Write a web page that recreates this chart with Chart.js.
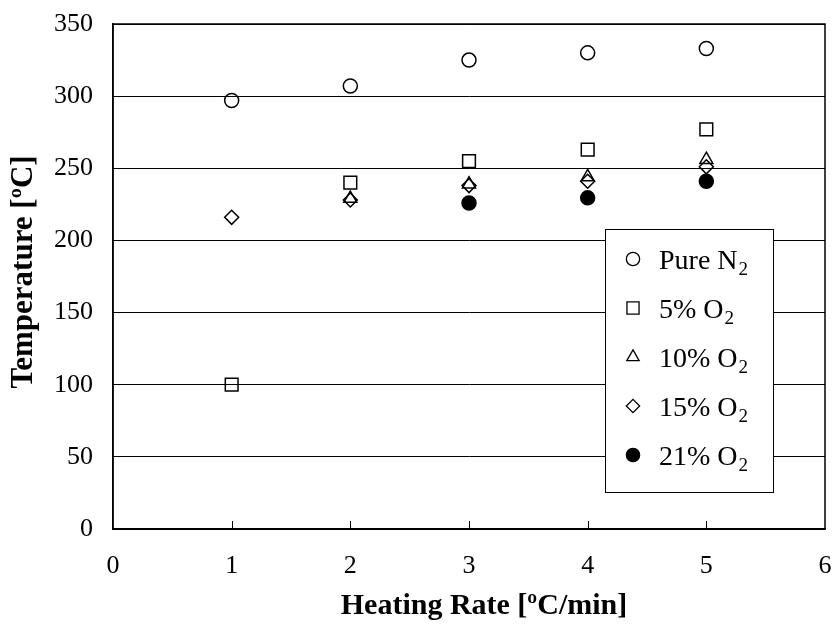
<!DOCTYPE html>
<html>
<head>
<meta charset="utf-8">
<script src="https://cdn.jsdelivr.net/npm/chart.js@4.4.0/dist/chart.umd.min.js"></script>
<style>
  html, body { margin: 0; padding: 0; background: #fff; }
  #wrap { width: 837px; height: 628px; }
</style>
</head>
<body>
<div id="wrap"><canvas id="tempChart"></canvas></div>
<script>
// heating rates and onset temperatures
const ratesAll = [1, 2, 3, 4, 5];
const pureN2 = [297, 307, 325, 330, 333];
const o2_5 = [100, 240, 255, 263, 277];
const rates10 = [2, 3, 4, 5];
const o2_10 = [229, 239, 244, 256];
const o2_15 = [216, 228, 238, 241, 251];
const rates21 = [3, 4, 5];
const o2_21 = [226, 229.5, 241];

const seriesNames = ['Pure N', '5% O', '10% O', '15% O', '21% O'];
const seriesSub = ['2', '2', '2', '2', '2'];
const xTicks = [0, 1, 2, 3, 4, 5, 6];
const yTicks = [0, 50, 100, 150, 200, 250, 300, 350];

const serif = '"Liberation Serif", "Times New Roman", serif';

function pts(xs, ys) {
  return xs.map((x, i) => ({ x: x, y: ys[i] }));
}

const styles = [
  { pointStyle: 'circle', radius: 7, fill: 'rgba(0,0,0,0)' },
  { pointStyle: 'rect', radius: 9, fill: 'rgba(0,0,0,0)' },
  { pointStyle: 'triangle', radius: 7.5, fill: 'rgba(0,0,0,0)' },
  { pointStyle: 'rectRot', radius: 7, fill: 'rgba(0,0,0,0)' },
  { pointStyle: 'circle', radius: 7, fill: '#000' }
];

const allData = [
  pts(ratesAll, pureN2),
  pts(ratesAll, o2_5),
  pts(rates10, o2_10),
  pts(ratesAll, o2_15),
  pts(rates21, o2_21)
];

// frame, inward x ticks, axis titles and legend box
const decorPlugin = {
  id: 'decor',
  afterDraw(chart) {
    const ctx = chart.ctx;
    const a = chart.chartArea;
    const xs = chart.scales.x;
    ctx.save();
    ctx.strokeStyle = '#000';
    ctx.lineWidth = 1.5;
    ctx.strokeRect(a.left, a.top, a.right - a.left, a.bottom - a.top);

    ctx.lineWidth = 1;
    xTicks.forEach(v => {
      if (v <= xs.min || v >= xs.max) return;
      const px = Math.round(xs.getPixelForValue(v)) + 0.5;
      ctx.beginPath();
      ctx.moveTo(px, a.bottom);
      ctx.lineTo(px, a.bottom - 8);
      ctx.stroke();
    });

    ctx.fillStyle = '#000';
    ctx.font = 'bold 30px ' + serif;
    ctx.textAlign = 'center';
    ctx.textBaseline = 'middle';
    ctx.fillText('Heating Rate [ºC/min]', 484, 606);
    ctx.save();
    ctx.translate(24, 272);
    ctx.rotate(-Math.PI / 2);
    ctx.font = 'bold 31px ' + serif;
    ctx.fillText('Temperature [ºC]', 0, 0);
    ctx.restore();

    // legend
    const bx = 605, by = 229, bw = 168, bh = 263;
    ctx.fillStyle = '#fff';
    ctx.fillRect(bx, by, bw, bh);
    ctx.strokeStyle = '#000';
    ctx.lineWidth = 1;
    ctx.strokeRect(bx + 0.5, by + 0.5, bw, bh);
    seriesNames.forEach((name, i) => {
      const cy = 259 + i * 49;
      const st = styles[i];
      ctx.fillStyle = st.fill;
      ctx.strokeStyle = '#000';
      ctx.lineWidth = 1.3;
      Chart.helpers.drawPoint(ctx, {
        pointStyle: st.pointStyle,
        radius: st.radius * 0.95,
        rotation: 0,
        borderWidth: 1.3
      }, 633, cy);
      ctx.fillStyle = '#000';
      ctx.textAlign = 'left';
      ctx.textBaseline = 'alphabetic';
      ctx.font = '28px ' + serif;
      ctx.fillText(name, 659, cy + 10);
      const w = ctx.measureText(name).width;
      ctx.font = '19px ' + serif;
      ctx.fillText(seriesSub[i], 659 + w + 1, cy + 16);
    });
    ctx.restore();
  }
};

new Chart(document.getElementById('tempChart'), {
  type: 'scatter',
  data: {
    datasets: allData.map((d, i) => ({
      label: seriesNames[i] + seriesSub[i],
      data: d,
      pointStyle: styles[i].pointStyle,
      pointRadius: styles[i].radius,
      pointHoverRadius: styles[i].radius,
      pointBorderWidth: 1.5,
      pointBorderColor: '#000',
      pointBackgroundColor: styles[i].fill,
      showLine: false
    }))
  },
  options: {
    responsive: true,
    maintainAspectRatio: false,
    animation: false,
    layout: { padding: { top: 24, right: 12, left: 0, bottom: 0 } },
    plugins: {
      legend: { display: false },
      tooltip: { enabled: false }
    },
    scales: {
      x: {
        type: 'linear',
        min: 0,
        max: 6,
        afterFit(s) { s.height = 99; s.paddingLeft = 0; s.paddingRight = 0; },
        afterBuildTicks(s) { s.ticks = xTicks.map(v => ({ value: v })); },
        grid: { display: false, drawTicks: false },
        border: { display: true, color: '#000', width: 1.5 },
        ticks: {
          color: '#000',
          padding: 22,
          font: { family: serif, size: 26 }
        }
      },
      y: {
        min: 0,
        max: 350,
        afterFit(s) { s.width = 113; s.paddingTop = 0; s.paddingBottom = 0; },
        afterBuildTicks(s) { s.ticks = yTicks.map(v => ({ value: v })); },
        grid: { color: '#000', lineWidth: 1, drawTicks: false },
        border: { display: true, color: '#000', width: 1.5 },
        ticks: {
          color: '#000',
          padding: 20,
          font: { family: serif, size: 26 }
        }
      }
    }
  },
  plugins: [decorPlugin]
});
</script>
</body>
</html>
